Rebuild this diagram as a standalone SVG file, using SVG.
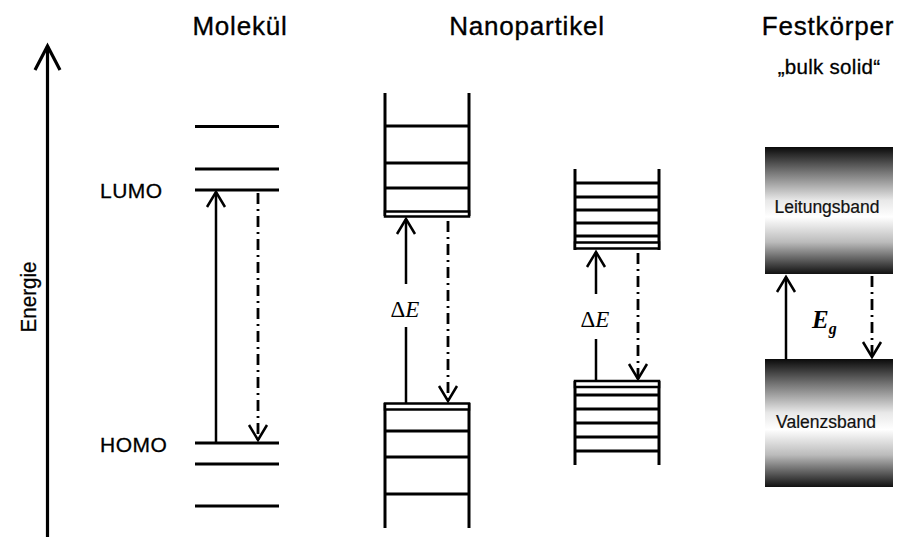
<svg xmlns="http://www.w3.org/2000/svg" width="898" height="542" viewBox="0 0 898 542">
  <style>
    .lvl { stroke: #000; stroke-width: 3; fill: none; }
    .wall { stroke: #000; stroke-width: 3; fill: none; }
    .bar { stroke: #000; stroke-width: 2.5; fill: #fff; }
    .up { stroke: #000; stroke-width: 2.5; fill: none; }
    .down { stroke: #000; stroke-width: 2.8; fill: none; stroke-dasharray: 11 5 2 5; }
    .title { font-family: "Liberation Sans", Arial, sans-serif; font-size: 26px; letter-spacing: 0.8px; text-anchor: middle; fill: #000; stroke: #000; stroke-width: 0.35px; }
    .sub { font-family: "Liberation Sans", Arial, sans-serif; font-size: 20.5px; letter-spacing: 0.3px; text-anchor: middle; fill: #000; stroke: #000; stroke-width: 0.3px; }
    .lbl { font-family: "Liberation Sans", Arial, sans-serif; font-size: 21px; letter-spacing: 0.5px; fill: #000; stroke: #000; stroke-width: 0.3px; }
    .axislbl { font-family: "Liberation Sans", Arial, sans-serif; font-size: 22px; text-anchor: middle; fill: #000; stroke: #000; stroke-width: 0.3px; }
    .band { font-family: "Liberation Sans", Arial, sans-serif; font-size: 17.5px; text-anchor: middle; fill: #111; stroke: #111; stroke-width: 0.2px; }
    .math { font-family: "Liberation Serif", "Times New Roman", serif; font-size: 23px; text-anchor: middle; fill: #000; }
    .eg { font-family: "Liberation Serif", "Times New Roman", serif; font-size: 25px; font-weight: bold; font-style: italic; fill: #000; }
  </style>
  <defs>
    <marker id="open" viewBox="-20 -12 24 24" markerWidth="24" markerHeight="24" markerUnits="userSpaceOnUse" refX="0" refY="0" orient="auto" overflow="visible">
      <path d="M-15,-9 L0,0 L-15,9" fill="none" stroke="#000" stroke-width="2.5" stroke-dasharray="none"/>
    </marker>
    <marker id="axisHead" viewBox="-28 -15 32 30" markerWidth="32" markerHeight="30" markerUnits="userSpaceOnUse" refX="0" refY="0" orient="auto" overflow="visible">
      <path d="M-24,-12.5 L0,0 L-24,12.5" fill="none" stroke="#000" stroke-width="3.2"/>
    </marker>
    <linearGradient id="bandFill" x1="0" y1="0" x2="0" y2="1">
      <stop offset="0" stop-color="#0a0a0a"/>
      <stop offset="0.2" stop-color="#777"/>
      <stop offset="0.42" stop-color="#e8e8e8"/>
      <stop offset="0.55" stop-color="#fff"/>
      <stop offset="0.75" stop-color="#bbb"/>
      <stop offset="1" stop-color="#111"/>
    </linearGradient>
  </defs>

  <!-- energy axis -->
  <g id="axis">
    <line x1="47.5" y1="537" x2="47.5" y2="46" stroke="#000" stroke-width="3.2" marker-end="url(#axisHead)"/>
    <text class="axislbl" transform="translate(36,297) rotate(-90)" textLength="71" lengthAdjust="spacingAndGlyphs">Energie</text>
  </g>

  <!-- column titles -->
  <g id="titles">
    <text class="title" x="240" y="35">Molekül</text>
    <text class="title" x="527" y="35">Nanopartikel</text>
    <text class="title" x="828" y="35">Festkörper</text>
    <text class="sub" x="829" y="74">„bulk solid“</text>
  </g>

  <!-- molecule: discrete orbital levels -->
  <g id="molecule">
    <line class="lvl" x1="195" y1="126.5" x2="279" y2="126.5"/>
    <line class="lvl" x1="195" y1="169" x2="279" y2="169"/>
    <line class="lvl" x1="195" y1="190" x2="279" y2="190"/>
    <line class="lvl" x1="195" y1="443" x2="279" y2="443"/>
    <line class="lvl" x1="195" y1="464" x2="279" y2="464"/>
    <line class="lvl" x1="195" y1="506" x2="279" y2="506"/>
    <text class="lbl" x="100" y="198">LUMO</text>
    <text class="lbl" x="100" y="452">HOMO</text>
  </g>

  <!-- large nanoparticle: conduction-side levels -->
  <g id="nano-large-upper">
    <line class="wall" x1="385" y1="93" x2="385" y2="216"/>
    <line class="wall" x1="469" y1="93" x2="469" y2="216"/>
    <line class="lvl" x1="385" y1="126" x2="469" y2="126"/>
    <line class="lvl" x1="385" y1="163" x2="469" y2="163"/>
    <line class="lvl" x1="385" y1="188" x2="469" y2="188"/>
    <rect class="bar" x="385" y="211.5" width="84" height="5"/>
  </g>

  <!-- large nanoparticle: valence-side levels -->
  <g id="nano-large-lower">
    <line class="wall" x1="385" y1="403" x2="385" y2="528"/>
    <line class="wall" x1="469" y1="403" x2="469" y2="528"/>
    <rect class="bar" x="385" y="403.5" width="84" height="6"/>
    <line class="lvl" x1="385" y1="431" x2="469" y2="431"/>
    <line class="lvl" x1="385" y1="457" x2="469" y2="457"/>
    <line class="lvl" x1="385" y1="494" x2="469" y2="494"/>
  </g>

  <!-- small nanoparticle: conduction-side levels -->
  <g id="nano-small-upper">
    <line class="wall" x1="575" y1="169" x2="575" y2="250"/>
    <line class="wall" x1="659" y1="169" x2="659" y2="250"/>
    <line class="lvl" x1="575" y1="183" x2="659" y2="183"/>
    <line class="lvl" x1="575" y1="197" x2="659" y2="197"/>
    <line class="lvl" x1="575" y1="210" x2="659" y2="210"/>
    <line class="lvl" x1="575" y1="223" x2="659" y2="223"/>
    <line class="lvl" x1="575" y1="236" x2="659" y2="236"/>
    <rect class="bar" x="575" y="242.5" width="84" height="6"/>
  </g>

  <!-- small nanoparticle: valence-side levels -->
  <g id="nano-small-lower">
    <line class="wall" x1="575" y1="381" x2="575" y2="465"/>
    <line class="wall" x1="659" y1="381" x2="659" y2="465"/>
    <rect class="bar" x="575" y="381" width="84" height="6"/>
    <line class="lvl" x1="575" y1="395" x2="659" y2="395"/>
    <line class="lvl" x1="575" y1="409" x2="659" y2="409"/>
    <line class="lvl" x1="575" y1="423" x2="659" y2="423"/>
    <line class="lvl" x1="575" y1="437" x2="659" y2="437"/>
    <line class="lvl" x1="575" y1="451" x2="659" y2="451"/>
  </g>

  <!-- bulk solid: continuous bands -->
  <g id="conduction-band">
    <rect x="765" y="147" width="128" height="127" fill="url(#bandFill)"/>
    <text class="band" x="827" y="213">Leitungsband</text>
  </g>
  <g id="valence-band">
    <rect x="765" y="359" width="128" height="128" fill="url(#bandFill)"/>
    <text class="band" x="826" y="428">Valenzsband</text>
  </g>

  <!-- transitions: absorption (solid) and emission (dash-dot) -->
  <g id="connectors">
    <line class="up" x1="216" y1="443" x2="216" y2="192" marker-end="url(#open)"/>
    <line class="down" x1="258" y1="193" x2="258" y2="440" marker-end="url(#open)"/>

    <line class="up" x1="406" y1="403" x2="406" y2="327"/>
    <line class="up" x1="406" y1="284" x2="406" y2="219" marker-end="url(#open)"/>
    <line class="down" x1="448" y1="221" x2="448" y2="401" marker-end="url(#open)"/>

    <line class="up" x1="596" y1="381" x2="596" y2="339"/>
    <line class="up" x1="596" y1="294" x2="596" y2="252" marker-end="url(#open)"/>
    <line class="down" x1="638" y1="253" x2="638" y2="379" marker-end="url(#open)"/>

    <line class="up" x1="786" y1="359" x2="786" y2="277" stroke-width="3" marker-end="url(#open)"/>
    <line class="down" x1="872" y1="276" x2="872" y2="357" marker-end="url(#open)"/>
  </g>

  <!-- gap labels -->
  <g id="gap-labels">
    <text class="math" x="405" y="317">Δ<tspan font-style="italic">E</tspan></text>
    <text class="math" x="595" y="327">Δ<tspan font-style="italic">E</tspan></text>
    <text class="eg" x="812" y="328">E<tspan font-size="16" dy="6">g</tspan></text>
  </g>
</svg>
